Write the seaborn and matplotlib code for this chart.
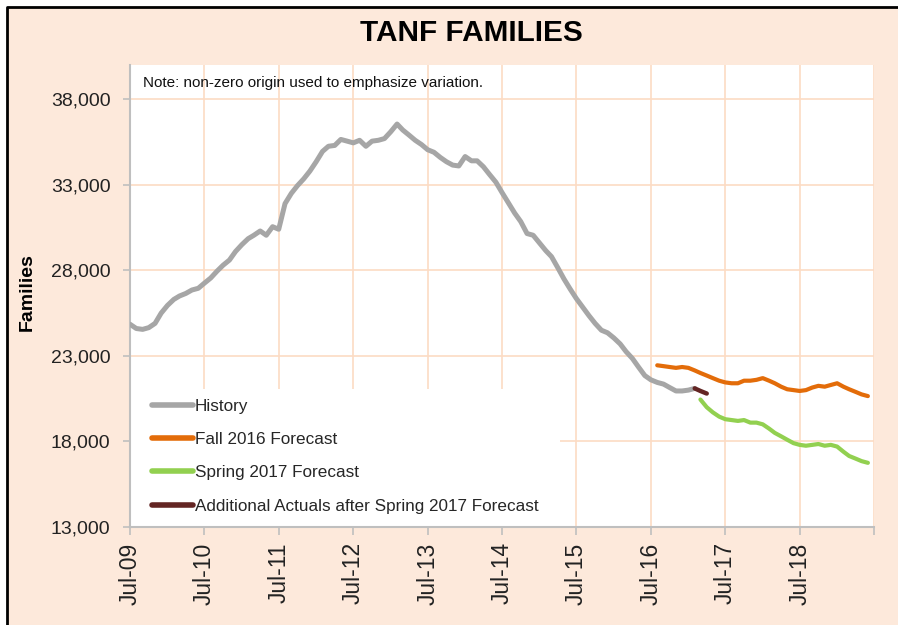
import pandas as pd
import matplotlib.pyplot as plt
from matplotlib.patches import Rectangle
from matplotlib.lines import Line2D
import seaborn as sns

# ==============================
# DATOS
# ==============================
history_start = "2009-07-01"
history = [24850, 24600, 24550, 24650, 24900, 25500, 25950, 26300, 26500, 26650,
           26850, 26950, 27250, 27550, 27950, 28300, 28600, 29100, 29500, 29850,
           30050, 30300, 30050, 30550, 30400, 31900, 32500, 32950, 33350, 33800,
           34350, 34950, 35250, 35300, 35650, 35550, 35450, 35600, 35250, 35550,
           35600, 35700, 36100, 36550, 36200, 35900, 35600, 35350, 35050, 34900,
           34600, 34350, 34150, 34100, 34650, 34400, 34400, 34050, 33600, 33150,
           32550, 31950, 31350, 30850, 30150, 30050, 29600, 29150, 28800, 28150,
           27500, 26900, 26350, 25850, 25350, 24900, 24500, 24350, 24050, 23700,
           23250, 22850, 22350, 21850, 21600, 21450, 21350, 21150, 20950, 20950,
           21000, 21100]

fall_start = "2016-08-01"
fall_2016 = [22450, 22400, 22350, 22300, 22350, 22300, 22150, 22000, 21850, 21700,
             21550, 21450, 21400, 21400, 21550, 21550, 21600, 21700, 21550, 21400,
             21200, 21050, 21000, 20950, 21000, 21150, 21250, 21200, 21300, 21400,
             21200, 21050, 20900, 20750, 20650]

spring_start = "2017-03-01"
spring_2017 = [20450, 20000, 19700, 19450, 19300, 19250, 19200, 19250, 19100, 19100,
               19000, 18750, 18500, 18300, 18100, 17900, 17800, 17750, 17800, 17850,
               17750, 17800, 17700, 17400, 17150, 17000, 16850, 16750]

actuals_start = "2017-02-01"
actuals = [21100, 20950, 20800]

labels = ["History", "Fall 2016 Forecast", "Spring 2017 Forecast",
          "Additional Actuals after Spring 2017 Forecast"]
colores = ["#a6a6a6", "#e36c09", "#92d050", "#632523"]
y_ticks = [13000, 18000, 23000, 28000, 33000, 38000]

# ==============================
# ARMAR TABLA
# ==============================
series = [(history_start, history), (fall_start, fall_2016),
          (spring_start, spring_2017), (actuals_start, actuals)]
frames = []
for lab, (start, vals) in zip(labels, series):
    frames.append(pd.DataFrame({
        "Mes": pd.date_range(start, periods=len(vals), freq="MS"),
        "Familias": vals,
        "Serie": lab,
    }))
data = pd.concat(frames, ignore_index=True)

# ==============================
# CONFIGURACION VISUAL
# ==============================
sns.set_theme(style="white")
plt.rcParams["font.family"] = ["Liberation Sans", "DejaVu Sans"]

peach = "#fde9db"
grid_c = "#fcdcc4"

fig = plt.figure(figsize=(8.98, 6.25), dpi=100)
fig.patch.set_facecolor("white")
# fondo durazno + borde negro solo arriba e izquierda
x0, y1 = 7 / 898, 1 - 7 / 625
fig.patches.append(Rectangle((x0, 0), 1 - x0, y1, transform=fig.transFigure,
                             facecolor=peach, edgecolor="none", zorder=-10))
fig.lines.append(Line2D([x0, x0, 1], [0, y1, y1], transform=fig.transFigure,
                        color="black", linewidth=2, zorder=-9))

ax = fig.add_axes([130 / 898, 1 - 527 / 625, 744 / 898, 462 / 625])
ax.set_facecolor("white")

widths = [3.6, 3.0, 3.0, 3.2]
for lab, col, lw in zip(labels, colores, widths):
    sns.lineplot(data=data[data["Serie"] == lab], x="Mes", y="Familias",
                 color=col, linewidth=lw, label=lab, ax=ax,
                 solid_capstyle="round", zorder=3)

ax.set_ylim(13000, 40000)
ax.set_yticks(y_ticks)
ax.yaxis.set_major_formatter(plt.FuncFormatter(lambda v, p: f"{v:,.0f}"))
ax.set_xlim(pd.Timestamp("2009-07-01"), pd.Timestamp("2019-07-01"))
ax.set_xticks(pd.date_range("2009-07-01", "2019-07-01", freq="12MS"))
xl = [t.strftime("%b-%y") for t in pd.date_range("2009-07-01", "2018-07-01", freq="12MS")] + [""]
ax.set_xticklabels(xl, rotation=90)

ax.grid(True, color=grid_c, linewidth=1.2, zorder=0)
ax.set_axisbelow(True)
for s in ["top", "right"]:
    ax.spines[s].set_visible(False)
for s in ["left", "bottom"]:
    ax.spines[s].set_color("#bfbfbf")
    ax.spines[s].set_linewidth(1.5)
ax.tick_params(axis="y", which="major", direction="out", length=5, width=1.2,
               color="#bfbfbf", labelsize=14, pad=9, left=True, labelcolor="#222222")
ax.tick_params(axis="x", which="major", direction="out", length=6, width=1.2,
               color="#bfbfbf", labelsize=16.5, pad=5, bottom=True, labelcolor="#222222")
ax.set_xlabel("")
ax.set_ylabel("")

# caja blanca de la leyenda
ax.add_patch(Rectangle((0, 0), (560 - 130) / 744, (527 - 389) / 462,
                       transform=ax.transAxes, facecolor="white",
                       edgecolor="none", zorder=1))
leg = ax.legend(loc="upper left", bbox_to_anchor=(15 / 744, (527 - 392) / 462),
                frameon=False, fontsize=12.3, handlelength=2.4, handletextpad=0.1,
                labelspacing=1.07, borderaxespad=0)
for h in leg.get_lines():
    h.set_linewidth(4)

ax.text(13 / 744, (527 - 83) / 462, "Note: non-zero origin used to emphasize variation.",
        transform=ax.transAxes, fontsize=11, va="center", ha="left", color="#111111")

fig.text(471 / 898, 1 - 33 / 625, "TANF FAMILIES", fontsize=21.4, fontweight="bold",
         ha="center", va="center", color="black")
fig.text(27 / 898, 1 - 292 / 625, "Families", fontsize=14, fontweight="bold",
         rotation=90, ha="center", va="center", color="black")

fig.savefig("out.png", dpi=100, facecolor=fig.get_facecolor())
